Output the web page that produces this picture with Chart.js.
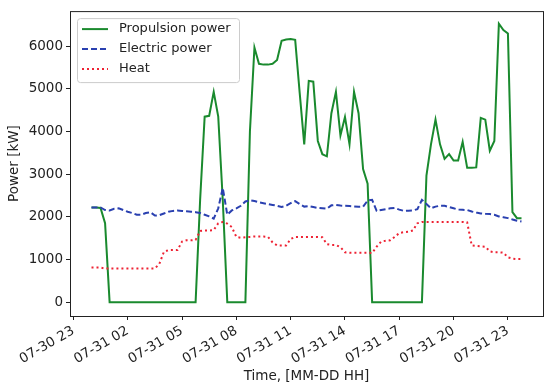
<!DOCTYPE html>
<html>
<head>
<meta charset="utf-8">
<script src="https://cdn.jsdelivr.net/npm/chart.js@4.4.0/dist/chart.umd.min.js"></script>
<style>
  html, body { margin: 0; padding: 0; background: #fff; }
  #wrap { width: 550px; height: 390px; }
</style>
</head>
<body>
<div id="wrap"><canvas id="chart" width="550" height="390"></canvas></div>
<script>
// samples every 15 minutes, hours counted from 07-31 00:00
const startHour = 0;
const stepHours = 0.25;

const propulsion = [
  2220, 2220, 2210, 1850, 0, 0, 0, 0, 0, 0, 0, 0,
  0, 0, 0, 0, 0, 0, 0, 0, 0, 0, 0, 0,
  2400, 4350, 4370, 4930, 4350, 2400, 0, 0, 0, 0, 0, 4000,
  5970, 5590, 5570, 5570, 5590, 5680, 6130, 6160, 6170, 6150, 4900, 3700,
  5190, 5170, 3780, 3470, 3420, 4430, 4930, 3910, 4340, 3700, 4930, 4430,
  3120, 2780, 0, 0, 0, 0, 0, 0, 0, 0, 0, 0,
  0, 0, 2970, 3700, 4280, 3700, 3360, 3470, 3320, 3320, 3760, 3150,
  3150, 3160, 4320, 4280, 3550, 3780, 6530, 6380, 6300, 2110, 1970, 1970
];

const electric = [
  2220, 2220, 2220, 2160, 2150, 2190, 2200, 2160, 2120, 2090, 2050, 2050,
  2090, 2110, 2030, 2040, 2080, 2120, 2140, 2150, 2140, 2130, 2120, 2110,
  2090, 2050, 2010, 1960, 2200, 2680, 2050, 2150, 2200, 2260, 2360, 2390,
  2370, 2340, 2320, 2300, 2280, 2260, 2230, 2260, 2320, 2370, 2300, 2240,
  2250, 2230, 2210, 2200, 2190, 2270, 2280, 2265, 2260, 2255, 2245, 2235,
  2240, 2380, 2400, 2140, 2160, 2180, 2200, 2210, 2170, 2140, 2145, 2150,
  2180, 2400, 2300, 2200, 2240, 2260, 2260, 2230, 2200, 2170, 2165, 2160,
  2125, 2100, 2080, 2070, 2065, 2050, 2010, 1990, 1970, 1940, 1910, 1890
];

const heat = [
  810, 810, 810, 790, 790, 790, 790, 790, 790, 790, 790, 790,
  790, 790, 790, 900, 1180, 1220, 1220, 1220, 1420, 1450, 1450, 1460,
  1670, 1680, 1680, 1690, 1850, 1880, 1840, 1760, 1530, 1510, 1520, 1530,
  1540, 1540, 1540, 1530, 1400, 1330, 1330, 1330, 1480, 1530, 1530, 1530,
  1530, 1530, 1530, 1520, 1360, 1340, 1340, 1290, 1170, 1160, 1160, 1160,
  1160, 1160, 1150, 1300, 1420, 1440, 1450, 1530, 1620, 1640, 1650, 1680,
  1850, 1880, 1880, 1880, 1880, 1880, 1880, 1880, 1880, 1880, 1880, 1870,
  1330, 1320, 1310, 1300, 1190, 1170, 1170, 1160, 1050, 1020, 1010, 1010
];

const xTickHours = [-1, 2, 5, 8, 11, 14, 17, 20, 23];
const yTicks = [0, 1000, 2000, 3000, 4000, 5000, 6000];

const toPoints = (values) => values.map((v, i) => ({ x: startHour + i * stepHours, y: v }));

const hourLabel = (h) => {
  const day = h < 0 ? '07-30' : '07-31';
  const hh = ((h % 24) + 24) % 24;
  return day + ' ' + String(hh).padStart(2, '0');
};

const textColor = '#222222';
Chart.defaults.font.family = '"DejaVu Sans", sans-serif';
Chart.defaults.color = textColor;

// box around the plot, like matplotlib spines
const frame = {
  id: 'frame',
  afterDatasetsDraw(chart) {
    const { ctx, chartArea: a } = chart;
    ctx.save();
    ctx.strokeStyle = textColor;
    ctx.lineWidth = 1;
    ctx.strokeRect(a.left + 0.5, a.top + 0.5, a.right - a.left, a.bottom - a.top);
    ctx.restore();
  }
};

// legend drawn inside the plot, upper left
const boxLegend = {
  id: 'boxLegend',
  afterDraw(chart) {
    const { ctx, chartArea: a } = chart;
    const x = a.left + 7, y = a.top + 7, w = 162, h = 64;
    ctx.save();
    ctx.beginPath();
    ctx.roundRect(x + 0.5, y + 0.5, w, h, 3);
    ctx.fillStyle = 'rgba(255,255,255,0.8)';
    ctx.fill();
    ctx.strokeStyle = '#cccccc';
    ctx.lineWidth = 1;
    ctx.stroke();
    chart.data.datasets.forEach((ds, i) => {
      const ly = y + 11 + i * 20;
      ctx.beginPath();
      ctx.setLineDash(ds.borderDash || []);
      ctx.strokeStyle = ds.borderColor;
      ctx.lineWidth = ds.borderWidth;
      ctx.moveTo(x + 5, ly);
      ctx.lineTo(x + 31, ly);
      ctx.stroke();
      ctx.setLineDash([]);
      ctx.fillStyle = textColor;
      ctx.font = '13px "DejaVu Sans"';
      ctx.textBaseline = 'middle';
      ctx.fillText(ds.label, x + 42, ly);
    });
    ctx.restore();
  }
};

new Chart(document.getElementById('chart'), {
  type: 'line',
  data: {
    datasets: [
      {
        label: 'Propulsion power',
        data: toPoints(propulsion),
        borderColor: '#1a8a2e',
        borderWidth: 2,
        pointRadius: 0,
        tension: 0,
        fill: false,
        order: 2,
      },
      {
        label: 'Electric power',
        data: toPoints(electric),
        borderColor: '#2a40b0',
        borderWidth: 2,
        borderDash: [6, 3],
        pointRadius: 0,
        tension: 0,
        fill: false,
        order: 1,
      },
      {
        label: 'Heat',
        data: toPoints(heat),
        borderColor: '#ee2233',
        borderWidth: 2,
        borderDash: [2, 3],
        pointRadius: 0,
        tension: 0,
        fill: false,
        order: 0,
      },
    ],
  },
  options: {
    responsive: false,
    animation: false,
    devicePixelRatio: 1,
    layout: { padding: { top: 6, right: 7, left: 0, bottom: 0 } },
    plugins: {
      legend: { display: false },
      tooltip: { enabled: false },
    },
    scales: {
      x: {
        type: 'linear',
        min: -1.1875,
        max: 24.9375,
        afterBuildTicks: (scale) => { scale.ticks = xTickHours.map((v) => ({ value: v })); },
        afterFit: (scale) => { scale.height = 74; },
        border: { display: false },
        grid: { drawOnChartArea: false, drawTicks: true, tickLength: 4, color: textColor },
        ticks: {
          autoSkip: false,
          minRotation: 30,
          maxRotation: 30,
          padding: 3,
          font: { size: 13.5 },
          callback: (value) => hourLabel(value),
        },
        title: {
          display: true,
          text: 'Time, [MM-DD HH]',
          font: { size: 13.5 },
          padding: { top: 0, bottom: 5 },
        },
      },
      y: {
        min: -325,
        max: 6825,
        afterBuildTicks: (scale) => { scale.ticks = yTicks.map((v) => ({ value: v })); },
        afterFit: (scale) => { scale.width = 70; },
        border: { display: false },
        grid: { drawOnChartArea: false, drawTicks: true, tickLength: 4, color: textColor },
        ticks: { padding: 3, font: { size: 13.5 }, callback: (value) => String(value) },
        title: {
          display: true,
          text: 'Power [kW]',
          font: { size: 13.5 },
          padding: { top: 6, bottom: 0 },
        },
      },
    },
  },
  plugins: [frame, boxLegend],
});
</script>
</body>
</html>
